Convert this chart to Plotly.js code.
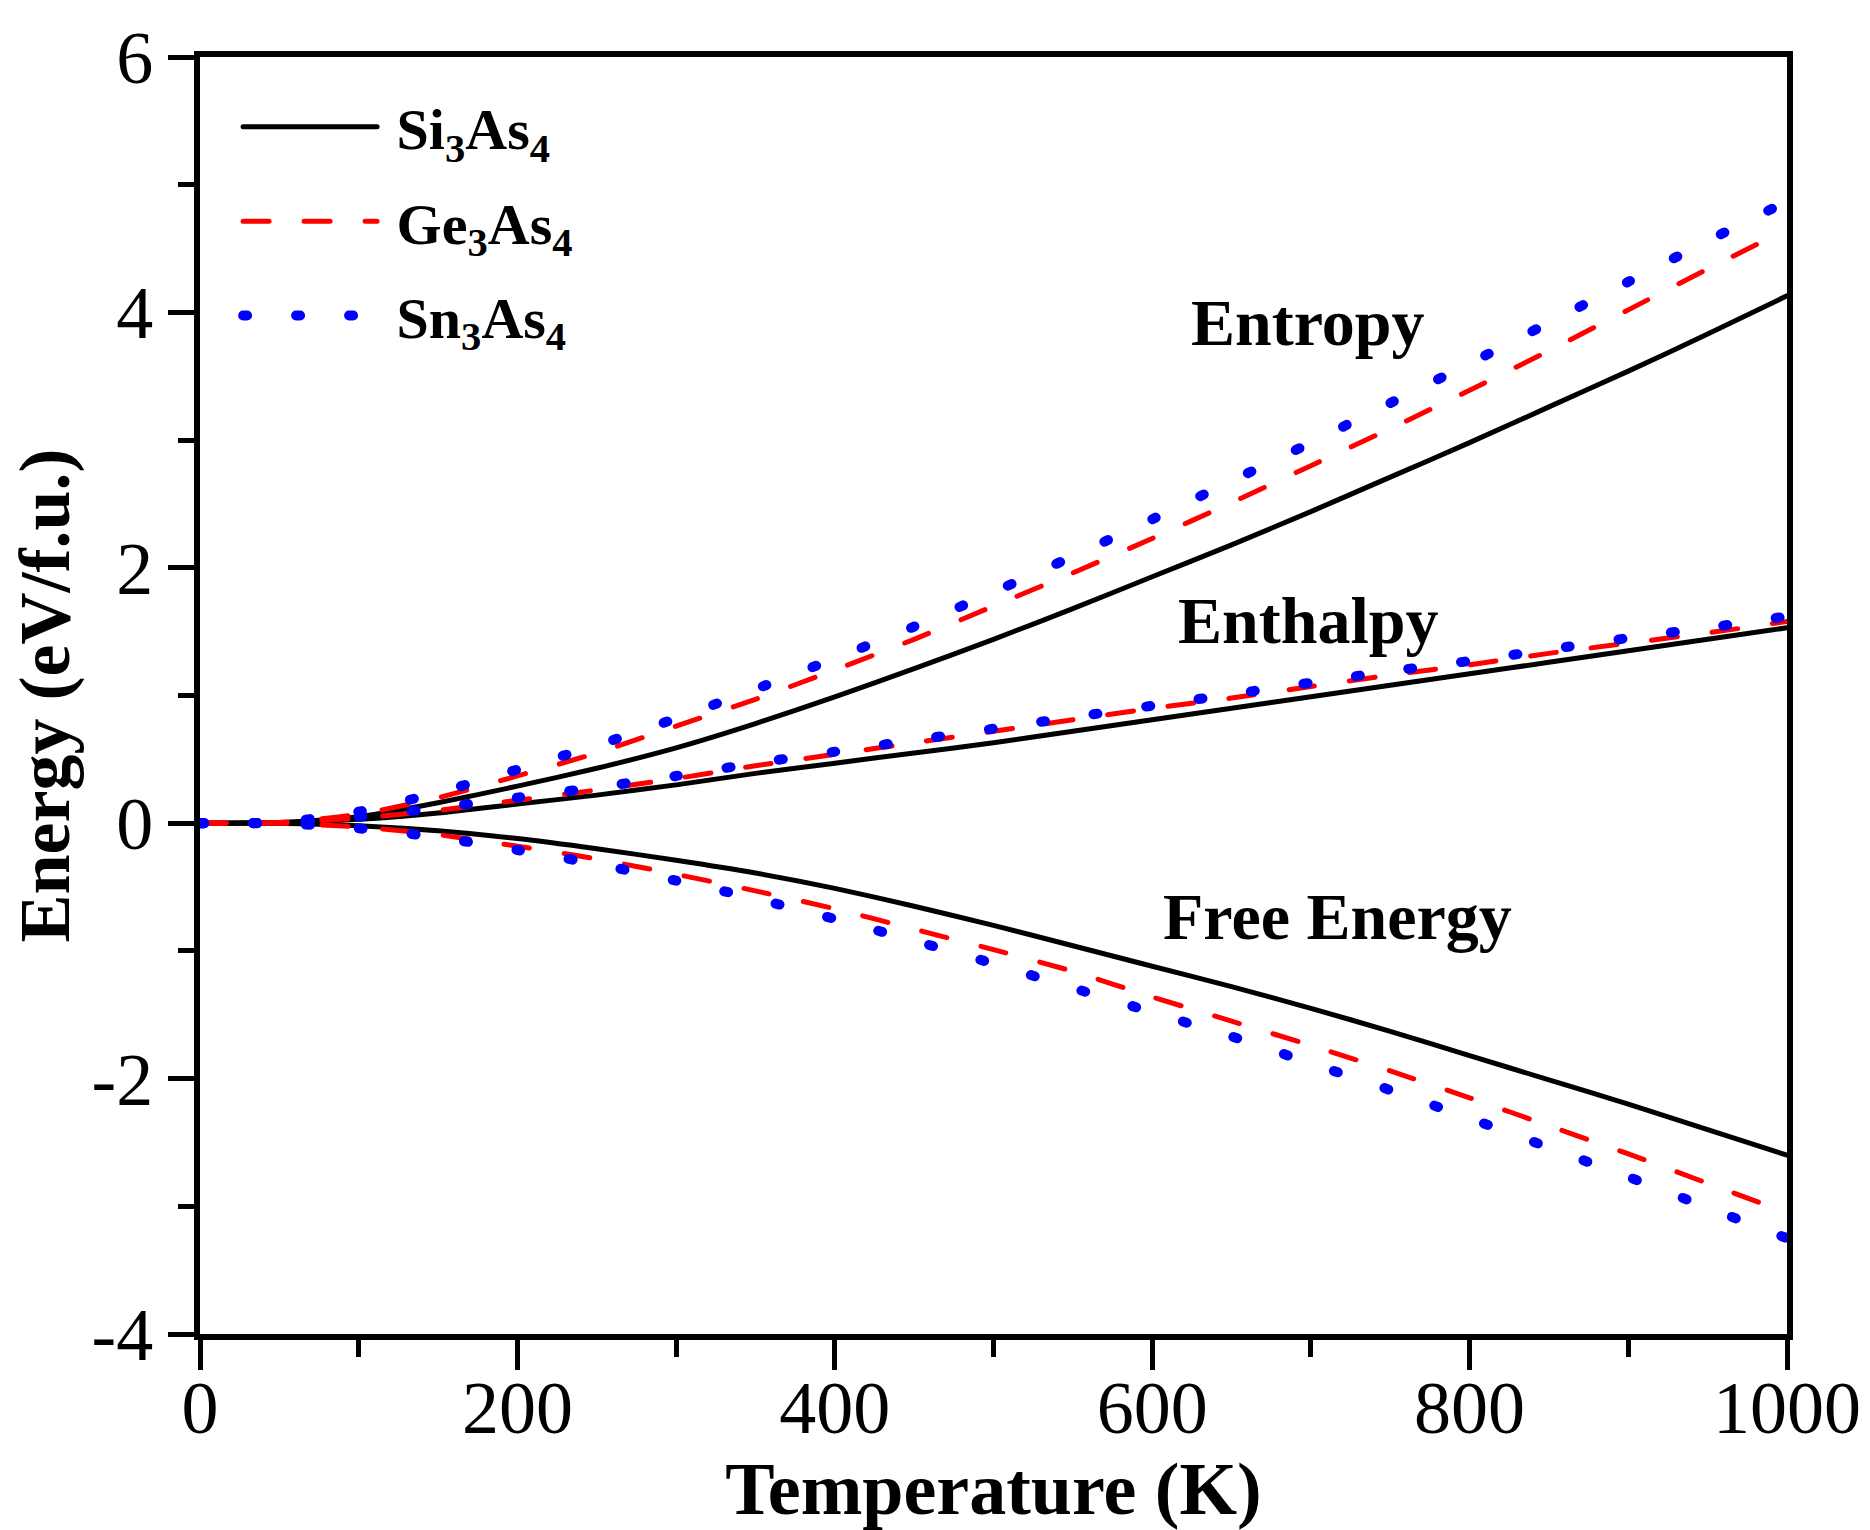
<!DOCTYPE html>
<html>
<head>
<meta charset="utf-8">
<script src="https://cdn.plot.ly/plotly-3.0.1.min.js"></script>
<style>
  html, body { margin: 0; padding: 0; background: #fff; }
  #chart { width: 1870px; height: 1530px; }
  .js-line { stroke-linecap: round; stroke-linejoin: round; }
</style>
</head>
<body>
<div id="chart"></div>
<script>
// Temperature grid (K)
const temperature = [0, 50, 100, 150, 200, 250, 300, 350, 400, 450, 500, 550, 600, 650, 700, 750, 800, 850, 900, 950, 1000];

// Entropy term (eV/f.u.)
const entropySi = [0, 0.005, 0.05, 0.16, 0.29, 0.43, 0.59, 0.78, 0.99, 1.21, 1.44, 1.68, 1.93, 2.18, 2.44, 2.71, 2.98, 3.26, 3.54, 3.83, 4.13];
const entropyGe = [0, 0.005, 0.07, 0.20, 0.37, 0.55, 0.76, 0.97, 1.20, 1.44, 1.70, 1.96, 2.23, 2.51, 2.80, 3.09, 3.39, 3.70, 4.02, 4.34, 4.65];
const entropySn = [0, 0.005, 0.09, 0.24, 0.42, 0.61, 0.82, 1.05, 1.29, 1.54, 1.81, 2.09, 2.38, 2.68, 2.98, 3.29, 3.60, 3.92, 4.24, 4.56, 4.87];

// Enthalpy (eV/f.u.)
const enthalpySi = [0, 0.003, 0.03, 0.08, 0.15, 0.22, 0.30, 0.39, 0.47, 0.55, 0.63, 0.72, 0.81, 0.90, 0.99, 1.08, 1.17, 1.26, 1.35, 1.44, 1.53];
const enthalpyGe = [0, 0.004, 0.04, 0.10, 0.18, 0.26, 0.35, 0.45, 0.54, 0.63, 0.72, 0.81, 0.90, 0.98, 1.07, 1.16, 1.24, 1.33, 1.41, 1.49, 1.58];
const enthalpySn = [0, 0.004, 0.05, 0.12, 0.20, 0.28, 0.37, 0.47, 0.56, 0.65, 0.74, 0.83, 0.92, 1.01, 1.10, 1.19, 1.27, 1.36, 1.45, 1.53, 1.62];

// Free energy (eV/f.u.)
const freeSi = [0, 0, -0.02, -0.06, -0.12, -0.20, -0.29, -0.39, -0.51, -0.65, -0.80, -0.96, -1.12, -1.28, -1.45, -1.63, -1.82, -2.01, -2.20, -2.40, -2.60];
const freeGe = [0, 0, -0.03, -0.09, -0.18, -0.28, -0.40, -0.53, -0.67, -0.83, -0.99, -1.16, -1.36, -1.55, -1.74, -1.94, -2.15, -2.37, -2.59, -2.82, -3.05];
const freeSn = [0, 0, -0.04, -0.11, -0.21, -0.32, -0.45, -0.59, -0.75, -0.92, -1.10, -1.29, -1.48, -1.67, -1.88, -2.09, -2.31, -2.54, -2.77, -3.01, -3.25];

const seriesNames = ['\u00a0Si<sub>3</sub>As<sub>4</sub>', '\u00a0Ge<sub>3</sub>As<sub>4</sub>', '\u00a0Sn<sub>3</sub>As<sub>4</sub>'];
const xTickVals = [0, 200, 400, 600, 800, 1000];
const yTickVals = [-4, -2, 0, 2, 4, 6];
const curveLabels = ['Entropy', 'Enthalpy', 'Free Energy'];

const styles = [
  { color: '#000000', width: 5, dash: 'solid' },
  { color: '#ff0000', width: 5, dash: '26px,35px' },
  { color: '#0000ff', width: 10, dash: '4px,49px' }
];

const groups = [
  [entropySi, enthalpySi, freeSi],
  [entropyGe, enthalpyGe, freeGe],
  [entropySn, enthalpySn, freeSn]
];

const traces = [];
groups.forEach((g, i) => {
  g.forEach((ys, j) => {
    traces.push({
      x: temperature,
      y: ys,
      type: 'scatter',
      mode: 'lines',
      name: seriesNames[i],
      legendgroup: 'g' + i,
      showlegend: j === 0,
      line: { color: styles[i].color, width: styles[i].width, dash: styles[i].dash, shape: 'spline', smoothing: 0.6 },
      hoverinfo: 'skip'
    });
  });
});

const serif = 'Liberation Serif, Times New Roman, serif';

const layout = {
  width: 1870,
  height: 1530,
  paper_bgcolor: '#ffffff',
  plot_bgcolor: '#ffffff',
  margin: { l: 200, r: 83, t: 57, b: 196 },
  showlegend: true,
  legend: {
    x: 0.024, y: 0.98, xanchor: 'left', yanchor: 'top',
    bgcolor: 'rgba(0,0,0,0)',
    font: { family: serif, size: 58, color: '#000', weight: 'bold' },
    itemwidth: 134,
    tracegroupgap: 16
  },
  xaxis: {
    range: [0, 1000],
    tickvals: xTickVals,
    ticktext: xTickVals.map(String),
    ticks: 'outside', ticklen: 30, tickwidth: 5, tickcolor: '#000',
    minor: { dtick: 100, tick0: 0, ticks: 'outside', ticklen: 17, tickwidth: 5, tickcolor: '#000' },
    showline: true, linewidth: 6, linecolor: '#000', mirror: true,
    showgrid: false, zeroline: false,
    ticklabelstandoff: -26,
    tickfont: { family: serif, size: 74, color: '#000' },
    title: { text: 'Temperature (K)', font: { family: serif, size: 74, color: '#000', weight: 'bold' }, standoff: 0 }
  },
  yaxis: {
    range: [-4, 6],
    tickvals: yTickVals,
    ticktext: yTickVals.map(String),
    ticks: 'outside', ticklen: 26, tickwidth: 5, tickcolor: '#000',
    minor: { dtick: 1, tick0: 0, ticks: 'outside', ticklen: 16, tickwidth: 5, tickcolor: '#000' },
    showline: true, linewidth: 6, linecolor: '#000', mirror: true,
    showgrid: false, zeroline: false,
    tickfont: { family: serif, size: 74, color: '#000' },
    title: { text: 'Energy (eV/f.u.)', font: { family: serif, size: 72, color: '#000', weight: 'bold' }, standoff: 0 }
  },
  annotations: [
    { x: 698, y: 3.92, xref: 'x', yref: 'y', text: curveLabels[0], showarrow: false, xanchor: 'center', yanchor: 'middle',
      font: { family: serif, size: 66, color: '#000', weight: 'bold' } },
    { x: 698, y: 1.59, xref: 'x', yref: 'y', text: curveLabels[1], showarrow: false, xanchor: 'center', yanchor: 'middle',
      font: { family: serif, size: 66, color: '#000', weight: 'bold' } },
    { x: 717, y: -0.73, xref: 'x', yref: 'y', text: curveLabels[2], showarrow: false, xanchor: 'center', yanchor: 'middle',
      font: { family: serif, size: 66, color: '#000', weight: 'bold' } }
  ]
};

Plotly.newPlot('chart', traces, layout, { staticPlot: true, displayModeBar: false });
</script>
</body>
</html>
